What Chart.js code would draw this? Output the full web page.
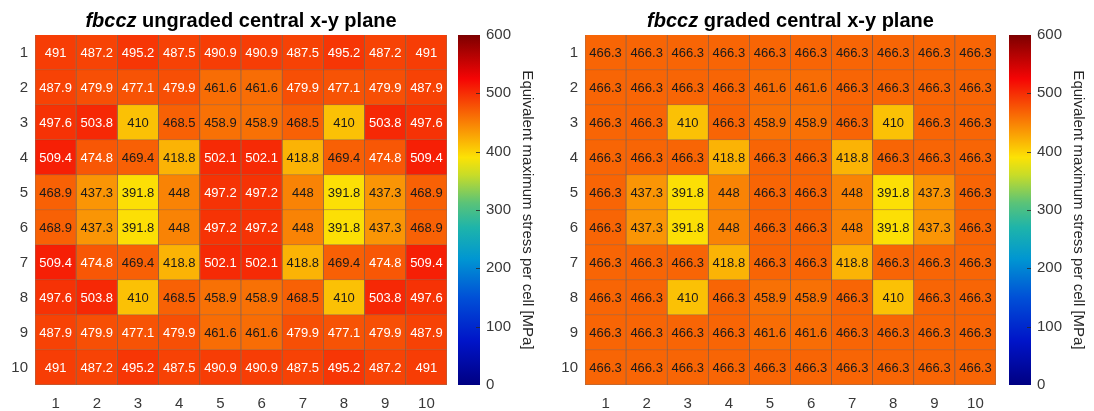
<!DOCTYPE html>
<html>
<head>
<meta charset="utf-8">
<script src="https://cdn.jsdelivr.net/npm/chart.js@4.4.1/dist/chart.umd.min.js"></script>
<style>
  body { margin: 0; background: #fff; }
  #wrap { position: relative; width: 1094px; height: 411px; }
  canvas { position: absolute; top: 0; }
</style>
</head>
<body>
<div id="wrap">
  <canvas id="ungradedChart" width="547" height="411" style="left:0"></canvas>
  <canvas id="gradedChart" width="547" height="411" style="left:547px"></canvas>
</div>
<script>
// rows (y) and columns (x) of the central x-y plane
const rowLabels = ['1', '2', '3', '4', '5', '6', '7', '8', '9', '10'];
const colLabels = ['1', '2', '3', '4', '5', '6', '7', '8', '9', '10'];

// equivalent maximum stress per cell [MPa], row 1 first
const ungradedStress = [
  [491, 487.2, 495.2, 487.5, 490.9, 490.9, 487.5, 495.2, 487.2, 491],
  [487.9, 479.9, 477.1, 479.9, 461.6, 461.6, 479.9, 477.1, 479.9, 487.9],
  [497.6, 503.8, 410, 468.5, 458.9, 458.9, 468.5, 410, 503.8, 497.6],
  [509.4, 474.8, 469.4, 418.8, 502.1, 502.1, 418.8, 469.4, 474.8, 509.4],
  [468.9, 437.3, 391.8, 448, 497.2, 497.2, 448, 391.8, 437.3, 468.9],
  [468.9, 437.3, 391.8, 448, 497.2, 497.2, 448, 391.8, 437.3, 468.9],
  [509.4, 474.8, 469.4, 418.8, 502.1, 502.1, 418.8, 469.4, 474.8, 509.4],
  [497.6, 503.8, 410, 468.5, 458.9, 458.9, 468.5, 410, 503.8, 497.6],
  [487.9, 479.9, 477.1, 479.9, 461.6, 461.6, 479.9, 477.1, 479.9, 487.9],
  [491, 487.2, 495.2, 487.5, 490.9, 490.9, 487.5, 495.2, 487.2, 491]
];
const gradedStress = [
  [466.3, 466.3, 466.3, 466.3, 466.3, 466.3, 466.3, 466.3, 466.3, 466.3],
  [466.3, 466.3, 466.3, 466.3, 461.6, 461.6, 466.3, 466.3, 466.3, 466.3],
  [466.3, 466.3, 410, 466.3, 458.9, 458.9, 466.3, 410, 466.3, 466.3],
  [466.3, 466.3, 466.3, 418.8, 466.3, 466.3, 418.8, 466.3, 466.3, 466.3],
  [466.3, 437.3, 391.8, 448, 466.3, 466.3, 448, 391.8, 437.3, 466.3],
  [466.3, 437.3, 391.8, 448, 466.3, 466.3, 448, 391.8, 437.3, 466.3],
  [466.3, 466.3, 466.3, 418.8, 466.3, 466.3, 418.8, 466.3, 466.3, 466.3],
  [466.3, 466.3, 410, 466.3, 458.9, 458.9, 466.3, 410, 466.3, 466.3],
  [466.3, 466.3, 466.3, 466.3, 461.6, 461.6, 466.3, 466.3, 466.3, 466.3],
  [466.3, 466.3, 466.3, 466.3, 466.3, 466.3, 466.3, 466.3, 466.3, 466.3]
];

// colorbar range
const cbMin = 0;
const cbMax = 600;
const cbStep = 100;
const cbTitle = 'Equivalent maximum stress per cell [MPa]';

const FONT = '"Liberation Sans", Arial, Helvetica, sans-serif';
const TICK_COLOR = '#383838';

// jet-like colormap (position, r, g, b)
const jetStops = [
  [0.000, 0, 0, 130],
  [0.125, 0, 20, 200],
  [0.250, 0, 80, 215],
  [0.360, 0, 150, 210],
  [0.450, 30, 180, 170],
  [0.520, 90, 195, 120],
  [0.600, 200, 220, 40],
  [0.650, 252, 226, 5],
  [0.875, 245, 5, 5],
  [1.000, 125, 0, 0]
];

function stressColor(v) {
  let t = (v - cbMin) / (cbMax - cbMin);
  t = Math.max(0, Math.min(1, t));
  for (let k = 1; k < jetStops.length; k++) {
    const a = jetStops[k - 1], b = jetStops[k];
    if (t <= b[0]) {
      const f = (t - a[0]) / (b[0] - a[0]);
      return [1, 2, 3].map(c => Math.round(a[c] + (b[c] - a[c]) * f));
    }
  }
  return jetStops[jetStops.length - 1].slice(1);
}
const rgb = c => 'rgb(' + c.join(',') + ')';

// title with italic specimen name
const panelTitle = {
  id: 'panelTitle',
  afterDraw(chart, args, opts) {
    const ctx = chart.ctx, a = chart.chartArea;
    const f1 = 'italic bold 20px ' + FONT;
    const f2 = 'bold 20px ' + FONT;
    ctx.save();
    ctx.font = f1;
    const w1 = ctx.measureText(opts.italic).width;
    ctx.font = f2;
    const w2 = ctx.measureText(opts.rest).width;
    const x = (a.left + a.right) / 2 - (w1 + w2) / 2;
    ctx.fillStyle = '#000';
    ctx.textBaseline = 'alphabetic';
    ctx.textAlign = 'left';
    ctx.font = f1;
    ctx.fillText(opts.italic, x, 27);
    ctx.font = f2;
    ctx.fillText(opts.rest, x + w1, 27);
    ctx.restore();
  }
};

// numbers inside cells
const cellLabels = {
  id: 'cellLabels',
  afterDatasetsDraw(chart) {
    const ctx = chart.ctx;
    ctx.save();
    ctx.font = '13px ' + FONT;
    ctx.textAlign = 'center';
    ctx.textBaseline = 'middle';
    chart.data.datasets.forEach((ds, i) => {
      chart.getDatasetMeta(i).data.forEach((bar, j) => {
        const v = ds.stress[j];
        const c = stressColor(v);
        const lum = 0.299 * c[0] + 0.587 * c[1] + 0.114 * c[2];
        ctx.fillStyle = lum < 129 ? '#ffffff' : '#1a1a1a';
        ctx.fillText(String(v), bar.x, (bar.y + bar.base) / 2 + 1);
      });
    });
    ctx.restore();
  }
};

// colorbar drawn along the cb scale
const colorbar = {
  id: 'colorbar',
  afterDraw(chart, args, opts) {
    const ctx = chart.ctx, a = chart.chartArea, s = chart.scales.cb;
    const x0 = a.right + opts.gap, w = 22;
    const yTop = s.getPixelForValue(cbMax), yBot = s.getPixelForValue(cbMin);
    const g = ctx.createLinearGradient(0, yBot, 0, yTop);
    jetStops.forEach(st => g.addColorStop(st[0], rgb(st.slice(1))));
    ctx.save();
    ctx.fillStyle = g;
    ctx.fillRect(x0, yTop, w, yBot - yTop);
    ctx.strokeStyle = 'rgba(40,40,40,0.8)';
    ctx.lineWidth = 1;
    s.ticks.forEach(t => {
      if (t.value === cbMin || t.value === cbMax) return;
      const y = Math.round(s.getPixelForValue(t.value)) + 0.5;
      ctx.beginPath();
      ctx.moveTo(x0 + w - 4, y);
      ctx.lineTo(x0 + w, y);
      ctx.stroke();
    });
    ctx.restore();
  }
};

function makeDatasets(values) {
  return values.map((row, i) => ({
    label: rowLabels[i],
    data: row.map(() => 1),
    stress: row,
    backgroundColor: row.map(v => rgb(stressColor(v))),
    borderColor: 'rgba(110,45,10,0.7)',
    borderWidth: 0.8,
    barPercentage: 1,
    categoryPercentage: 1
  }));
}

function makePanel(id, values, rest, geom) {
  const tickFont = { size: 15, family: FONT };
  return new Chart(document.getElementById(id), {
    type: 'bar',
    data: { labels: colLabels, datasets: makeDatasets(values) },
    options: {
      responsive: false,
      animation: false,
      devicePixelRatio: 1,
      layout: { padding: { top: 35, left: 0, right: 0, bottom: 0 } },
      plugins: {
        legend: { display: false },
        tooltip: { enabled: false },
        panelTitle: { italic: 'fbccz', rest: rest },
        colorbar: { gap: geom.gap }
      },
      scales: {
        x: {
          type: 'category',
          stacked: true,
          grid: { display: false, drawTicks: false },
          border: { display: false },
          ticks: { padding: 10, color: TICK_COLOR, font: tickFont, maxRotation: 0 },
          afterFit(s) { s.height = 26; s.paddingLeft = 0; s.paddingRight = 0; }
        },
        y: {
          type: 'linear',
          stacked: true,
          reverse: true,
          min: 0,
          max: rowLabels.length,
          afterBuildTicks(s) { s.ticks = rowLabels.map((_, i) => ({ value: i + 0.5 })); },
          grid: { display: false, drawTicks: false },
          border: { display: false },
          ticks: { autoSkip: false, padding: 7, color: TICK_COLOR, font: tickFont,
                   callback: (v, i) => rowLabels[i] },
          afterFit(s) { s.width = geom.left; s.paddingTop = 0; s.paddingBottom = 0; }
        },
        cb: {
          type: 'linear',
          position: 'right',
          min: cbMin,
          max: cbMax,
          grid: { display: false, drawTicks: false },
          border: { display: false },
          ticks: { stepSize: cbStep, padding: geom.cbPad, color: TICK_COLOR, font: tickFont },
          title: { display: true, text: cbTitle, color: '#262626',
                   font: { size: 15, family: FONT }, padding: { top: geom.titlePad, bottom: 0 } },
          afterFit(s) { s.width = geom.cbWidth; s.paddingTop = 0; s.paddingBottom = 0; }
        }
      }
    },
    plugins: [colorbar, cellLabels, panelTitle]
  });
}

makePanel('ungradedChart', ungradedStress, ' ungraded central x-y plane',
  { left: 35, cbWidth: 100, gap: 11, cbPad: 39, titlePad: 11 });
makePanel('gradedChart', gradedStress, ' graded central x-y plane',
  { left: 38, cbWidth: 98, gap: 13, cbPad: 41, titlePad: 7 });
</script>
</body>
</html>
